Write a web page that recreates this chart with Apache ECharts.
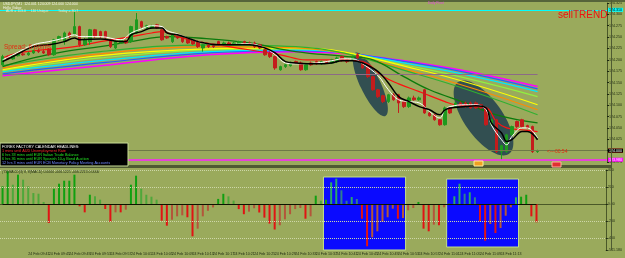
<!DOCTYPE html>
<html>
<head>
<meta charset="utf-8">
<script src="https://cdn.jsdelivr.net/npm/echarts@6/dist/echarts.min.js"></script>
<style>
  html, body { margin: 0; padding: 0; background: #9aaa5c; }
  #main { width: 625px; height: 258px; }
</style>
</head>
<body>
<div id="main"></div>
<script>
// USDJPY M1 candles
const opens = [124.189,124.207,124.202,124.209,124.213,124.211,124.215,124.220,124.218,124.222,
  124.211,124.244,124.240,124.259,124.257,124.273,124.233,124.240,124.266,124.262,
  124.262,124.244,124.226,124.237,124.242,124.240,124.259,124.284,124.270,124.270,
  124.277,124.266,124.251,124.240,124.251,124.248,124.246,124.242,124.240,124.226,
  124.233,124.231,124.240,124.233,124.237,124.235,124.235,124.240,124.237,124.237,
  124.233,124.222,124.215,124.207,124.178,124.185,124.187,124.196,124.193,124.178,
  124.193,124.196,124.191,124.196,124.193,124.196,124.207,124.200,124.200,124.211,
  124.196,124.185,124.163,124.134,124.121,124.108,124.123,124.123,124.108,124.097,
  124.116,124.112,124.134,124.083,124.079,124.068,124.057,124.094,124.097,124.105,
  124.105,124.105,124.105,124.101,124.094,124.057,124.068,123.998,123.998,124.035,
  124.064,124.068,124.055,124.053,123.998]
const closes = [124.207,124.202,124.209,124.213,124.211,124.215,124.220,124.218,124.215,124.211,
  124.244,124.251,124.259,124.251,124.273,124.233,124.244,124.266,124.251,124.251,
  124.248,124.229,124.240,124.242,124.237,124.273,124.288,124.273,124.275,124.275,
  124.270,124.244,124.248,124.255,124.248,124.240,124.237,124.235,124.229,124.233,
  124.229,124.229,124.233,124.237,124.235,124.237,124.240,124.237,124.235,124.229,
  124.226,124.211,124.207,124.182,124.185,124.189,124.193,124.193,124.178,124.189,
  124.189,124.191,124.196,124.193,124.200,124.204,124.198,124.196,124.207,124.204,
  124.182,124.163,124.134,124.119,124.108,124.123,124.112,124.105,124.097,124.116,
  124.112,124.116,124.083,124.077,124.068,124.057,124.094,124.083,124.105,124.097,
  124.097,124.094,124.094,124.094,124.057,124.068,123.998,124.011,124.035,124.053,
  124.053,124.053,124.050,123.998,124.000]
const lows = [124.187,124.200,124.200,124.207,124.209,124.209,124.213,124.215,124.213,124.209,
  124.209,124.242,124.233,124.248,124.255,124.229,124.231,124.233,124.248,124.248,
  124.244,124.226,124.224,124.235,124.235,124.237,124.257,124.270,124.268,124.268,
  124.268,124.242,124.246,124.237,124.246,124.237,124.235,124.233,124.226,124.218,
  124.226,124.226,124.231,124.231,124.233,124.233,124.233,124.235,124.233,124.226,
  124.224,124.209,124.204,124.178,124.176,124.182,124.185,124.191,124.176,124.176,
  124.187,124.189,124.189,124.191,124.191,124.193,124.196,124.193,124.198,124.202,
  124.180,124.160,124.132,124.116,124.105,124.105,124.110,124.083,124.094,124.094,
  124.110,124.110,124.081,124.075,124.066,124.055,124.055,124.081,124.094,124.094,
  124.094,124.092,124.092,124.092,124.055,124.055,123.995,123.980,123.995,124.033,
  124.050,124.050,124.048,123.995,123.995]
const highs = [124.211,124.209,124.211,124.215,124.218,124.218,124.222,124.224,124.222,124.226,
  124.246,124.253,124.262,124.262,124.306,124.275,124.248,124.268,124.268,124.264,
  124.264,124.246,124.242,124.244,124.244,124.275,124.303,124.286,124.277,124.277,
  124.279,124.268,124.253,124.257,124.253,124.251,124.248,124.244,124.242,124.235,
  124.235,124.233,124.242,124.240,124.240,124.240,124.242,124.242,124.240,124.240,
  124.235,124.224,124.218,124.209,124.187,124.191,124.196,124.198,124.196,124.191,
  124.196,124.198,124.198,124.198,124.202,124.207,124.209,124.202,124.209,124.215,
  124.198,124.187,124.165,124.136,124.123,124.125,124.127,124.125,124.110,124.119,
  124.121,124.119,124.136,124.086,124.081,124.070,124.097,124.097,124.108,124.108,
  124.108,124.108,124.108,124.103,124.097,124.070,124.070,124.013,124.037,124.055,
  124.066,124.070,124.057,124.055,124.002]

// indicator lines, read at a few bars each: [bar, price]
const maBlack = [[0,124.196],[2,124.207],[6,124.229],[9,124.233],[12,124.240],[14,124.248],[15,124.244],
  [19,124.246],[23,124.240],[24,124.240],[25,124.255],[27,124.262],[29,124.270],[31,124.270],[32,124.259],
  [34,124.255],[36,124.248],[38,124.240],[42,124.233],[48,124.233],[51,124.226],[53,124.215],[55,124.196],
  [57,124.193],[61,124.191],[64,124.193],[66,124.198],[68,124.198],[70,124.193],[73,124.174],[75,124.149],
  [77,124.119],[79,124.108],[81,124.097],[83,124.090],[85,124.079],[86,124.090],[87,124.094],[90,124.097],
  [92,124.099],[94,124.094],[95,124.061],[97,124.039],[98,124.020],[99,124.024],[101,124.042],[102,124.042],[104,124.024]]
const maWhite = [[0,124.200],[2,124.211],[6,124.233],[9,124.240],[12,124.248],[14,124.255],[15,124.251],
  [19,124.251],[23,124.244],[25,124.259],[27,124.268],[29,124.275],[31,124.273],[32,124.264],[34,124.257],
  [36,124.248],[38,124.240],[42,124.233],[48,124.235],[51,124.226],[53,124.211],[55,124.193],[57,124.191],
  [61,124.193],[64,124.198],[66,124.202],[68,124.202],[70,124.191],[73,124.165],[75,124.134],[77,124.112],
  [79,124.108],[81,124.105],[83,124.086],[85,124.072],[86,124.090],[87,124.097],[90,124.101],[92,124.101],
  [94,124.090],[95,124.057],[97,124.024],[98,124.013],[99,124.031],[101,124.050],[102,124.050],[104,124.028]]
const maRed = [[0,124.204],[3,124.215],[14,124.229],[19,124.240],[25,124.251],[29,124.259],[31,124.262],
  [34,124.251],[38,124.240],[44,124.229],[54,124.211],[59,124.200],[66,124.200],[70,124.196],[74,124.163],
  [77,124.147],[81,124.130],[86,124.108],[88,124.101],[94,124.094],[96,124.064],[98,124.050],[101,124.046],[104,124.042]]
const maDarkGreen = [[0,124.185],[6,124.204],[12,124.218],[19,124.229],[25,124.240],[32,124.251],[38,124.248],
  [48,124.237],[57,124.218],[67,124.207],[72,124.200],[78,124.163],[83,124.134],[90,124.105],[96,124.079],[104,124.061]]

// slow ribbon, read at the same bars for every line
const ribbonAt = [0, 19, 40, 57, 81, 104]
const ribbonMagenta = [124.165, 124.187, 124.211, 124.218, 124.193, 124.141]
const ribbonBlue = [124.169, 124.193, 124.215, 124.220, 124.191, 124.136]
const ribbonCyan = [124.174, 124.198, 124.218, 124.222, 124.187, 124.130]
const ribbonLime = [124.176, 124.204, 124.222, 124.224, 124.182, 124.119]
const ribbonYellow = [124.178, 124.209, 124.224, 124.226, 124.178, 124.101]
const ribbonOrange = [124.182, 124.213, 124.229, 124.226, 124.171, 124.090]
const ribbonGreen = [124.187, 124.218, 124.233, 124.229, 124.167, 124.079]

// price levels
const cyanLevel = 124.312
const pivotLevel = 124.169
const askLevel = 124.004
const bidLevel = 123.998
const lowLevel = 123.980

// lower pane histogram
const histValues = [208,385,227,345,286,208,129,121,24,-223,
  180,239,274,274,345,-27,-98,109,91,51,
  -59,-212,-98,-98,-67,227,333,180,109,86,
  51,-196,-255,-185,-145,-133,-156,-380,-290,-145,
  -80,-40,60,120,90,40,-60,-120,-90,-50,
  -100,-160,-230,-300,-250,-180,-120,-60,-47,-173,
  -145,98,39,51,255,298,161,39,82,59,
  -173,-497,-392,-321,-212,-156,-55,-173,-165,-74,
  -47,24,-290,-321,-243,-250,-39,5,91,239,
  121,138,79,-203,-432,-235,-341,-282,-138,-39,
  79,86,109,-145,-215]
const histTicks = [400, 200, 0, -200, -400, -541]
const boxes = [[64, 77, 318, -541], [88, 100, 294, -506]]

// time axis labels, one every 4 bars starting at bar 1
const timeLabels = ['24 Feb 09:37','24 Feb 09:41','24 Feb 09:45','24 Feb 09:49','24 Feb 09:53','24 Feb 09:57',
  '24 Feb 10:01','24 Feb 10:05','24 Feb 10:09','24 Feb 10:13','24 Feb 10:17','24 Feb 10:21','24 Feb 10:25',
  '24 Feb 10:29','24 Feb 10:33','24 Feb 10:37','24 Feb 10:41','24 Feb 10:45','24 Feb 10:49','24 Feb 10:53',
  '24 Feb 10:57','24 Feb 11:01','24 Feb 11:05','24 Feb 11:09','24 Feb 11:13','24 Feb 11:17']

const barCount = 118
const lastBar = opens.length - 1
const bars = []
for (let i = 0; i < barCount; i++) bars.push(String(i))

const chart = echarts.init(document.getElementById('main'))
const font = 'Liberation Sans, Arial, sans-serif'
const axisInk = '#1c2810'

const candles = opens.map((o, i) => [o, closes[i], lows[i], highs[i]])
const ribbon = (vals) => vals.map((v, k) => [ribbonAt[k], v])

function ma(name, data, color, width, z) {
  return {
    name, type: 'line', data, xAxisIndex: 0, yAxisIndex: 0,
    smooth: 0.4, symbol: 'none', silent: true, z: z || 2,
    lineStyle: { color, width }
  }
}

const inBox = (i) => boxes.some(b => i >= b[0] && i <= b[1])
const histData = histValues.map((v, i) => {
  const prev = i > 0 ? histValues[i - 1] : 0
  let color
  if (v >= 0) color = inBox(i) ? (v >= prev ? '#2aa86a' : '#2f7f8f') : (v >= prev ? '#10a010' : '#4ea83a')
  else color = v <= prev ? '#e01414' : '#b4563a'
  return { value: v, itemStyle: { color } }
})

function levelLabel(bg, fg) {
  return { show: true, position: 'end', distance: 1, formatter: (p) => p.value.toFixed(3),
    backgroundColor: bg, color: fg, fontSize: 3.6, fontFamily: font, padding: [0, 1] }
}

const dotted = (v) => ({ yAxis: v, lineStyle: { color: '#cdd6a8', type: 'dotted', width: 1 } })

const option = {
  backgroundColor: '#9aaa5c',
  animation: false,
  grid: [
    { left: 0, right: 14, top: 3, height: 159 },
    { left: 0, right: 14, top: 170, height: 80 }
  ],
  xAxis: [
    { type: 'category', data: bars, gridIndex: 0, boundaryGap: true, show: false },
    { type: 'category', data: bars, gridIndex: 1, boundaryGap: true,
      axisLine: { lineStyle: { color: '#4a5828' } },
      axisTick: { length: 2, interval: (i) => (i - 1) % 4 === 0 && i <= 101, lineStyle: { color: axisInk } },
      axisLabel: { interval: (i) => (i - 1) % 4 === 0 && i <= 101, align: 'left', margin: 2,
        fontSize: 3.6, color: axisInk, fontFamily: font, hideOverlap: false,
        formatter: (v, i) => timeLabels[(i - 1) / 4] || '' } }
  ],
  yAxis: [
    { type: 'value', gridIndex: 0, position: 'right', min: 123.975, max: 124.325, interval: 0.025,
      axisLine: { show: true, lineStyle: { color: '#4a5828' } },
      axisTick: { show: true, length: 2, lineStyle: { color: axisInk } },
      splitLine: { show: false },
      axisLabel: { fontSize: 3.6, color: axisInk, margin: 2, fontFamily: font, formatter: (v) => v.toFixed(3) } },
    { type: 'value', gridIndex: 1, position: 'right', min: -541, max: 400,
      axisLine: { show: true, lineStyle: { color: '#4a5828' } },
      axisTick: { show: true, length: 2, customValues: histTicks, lineStyle: { color: axisInk } },
      splitLine: { show: false },
      axisLabel: { fontSize: 3.6, color: axisInk, margin: 2, fontFamily: font, customValues: histTicks,
        formatter: (v) => v === 0 ? '0.00' : (v === -541 ? '-541.180' : String(v)) } }
  ],
  series: [
    ma('magenta', ribbon(ribbonMagenta), '#ff00ff', 1.6),
    ma('blue', ribbon(ribbonBlue), '#2060ff', 1.2),
    ma('cyan', ribbon(ribbonCyan), '#00e8ff', 1.2),
    ma('lime', ribbon(ribbonLime), '#90f040', 1.2),
    ma('yellow', ribbon(ribbonYellow), '#ffff00', 1.2),
    ma('orange', ribbon(ribbonOrange), '#ff8a00', 1.2),
    ma('green', ribbon(ribbonGreen), '#30b030', 1.2),
    ma('darkgreen', maDarkGreen, '#0c7a0c', 1.3),
    ma('red', maRed, '#ff1010', 1.2),
    {
      name: 'USDJPY', type: 'candlestick', data: candles, xAxisIndex: 0, yAxisIndex: 0, barWidth: 3, z: 3,
      itemStyle: { color: '#1e9a1e', color0: '#c41c1c', borderColor: '#1e9a1e', borderColor0: '#c41c1c', borderWidth: 1 },
      markLine: {
        silent: true, symbol: 'none', animation: false,
        data: [
          { yAxis: cyanLevel, lineStyle: { color: '#00ffff', width: 1, type: 'solid' }, label: levelLabel('#00ffff', '#000') },
          { yAxis: askLevel, lineStyle: { color: '#ff3a1a', width: 1, type: 'solid' }, label: levelLabel('#ff0000', '#fff') },
          { yAxis: bidLevel, lineStyle: { color: '#6e7a48', width: 1, type: 'solid' }, label: levelLabel('#000', '#fff') },
          { yAxis: lowLevel, lineStyle: { color: '#ff20ff', width: 1.5, type: 'solid' }, label: levelLabel('#ff00ff', '#fff') },
          [{ coord: [0, pivotLevel], lineStyle: { color: '#8c6a86', width: 1, type: 'solid' }, label: { show: false } },
           { coord: [lastBar, pivotLevel] }]
        ]
      }
    },
    ma('white', maWhite, '#ffffff', 1, 4),
    ma('black', maBlack, '#000000', 1.5, 5),
    {
      name: 'hist', type: 'bar', data: histData, xAxisIndex: 1, yAxisIndex: 1, barWidth: 2, z: 3,
      markArea: {
        silent: true,
        itemStyle: { color: '#0a0aff', borderColor: '#c4e088', borderWidth: 1 },
        data: boxes.map(b => [{ xAxis: b[0], yAxis: b[2] }, { xAxis: b[1], yAxis: b[3] }])
      },
      markLine: {
        silent: true, symbol: 'none', animation: false, label: { show: false },
        data: [
          dotted(400), dotted(200), dotted(-200), dotted(-400),
          [{ coord: [0, 0], lineStyle: { color: '#0c1400', type: 'solid', width: 1 } }, { coord: [lastBar, 0] }]
        ]
      }
    }
  ]
}

chart.setOption(option)

// hand-drawn ovals on the chart, anchored to bar/price
const ovals = [
  { bar: 71, price: 124.146, rx: 10, ry: 35, rot: 0.445 },
  { bar: 93, price: 124.072, rx: 19, ry: 44, rot: 0.62 }
]
const ovalEls = ovals.map(o => {
  const a = chart.convertToPixel({ gridIndex: 0 }, [o.bar, o.price])
  const b = chart.convertToPixel({ gridIndex: 0 }, [o.bar + 1, o.price])
  return { type: 'ellipse', x: (a[0] + b[0]) / 2, y: a[1], rotation: o.rot, z: 0,
    shape: { cx: 0, cy: 0, rx: o.rx, ry: o.ry }, style: { fill: '#2c4a50', opacity: 0.95 } }
})

const txt = (text, x, y, fill, size) => ({ type: 'text', x, y, z: 10,
  style: { text, fill, font: size + 'px ' + font } })

chart.setOption({
  graphic: [
    ...ovalEls,
    { type: 'rect', z: 9, shape: { x: 0, y: 0, width: 625, height: 2 }, style: { fill: '#56643a' } },
    { type: 'rect', z: 9, shape: { x: 0, y: 165, width: 611, height: 3 }, style: { fill: '#4e5a32' } },
    { type: 'rect', z: 9, shape: { x: 611, y: 0, width: 1, height: 250 }, style: { fill: '#4e5a32' } },
    txt('USDJPY,M1  124.001 124.009 124.000 124.004', 3, 2.5, '#f4f4e8', 3.5),
    txt('Hello Gabor', 3, 6, '#f4f4e8', 3.5),
    txt('ADR = 113.0     110 Unique          Today = 30.7', 6, 9.5, '#e4ecc4', 3.5),
    txt('Daily Pivot', 428, 1.5, '#e83ce8', 3.3),
    txt('sellTREND', 558, 10, '#ee1111', 10),
    txt('Spread: 6 points', 4, 44, '#e22a10', 6.5),
    { type: 'rect', z: 9, shape: { x: 0, y: 143, width: 128, height: 23 }, style: { fill: '#000', stroke: '#c8dc96', lineWidth: 1 } },
    txt('FOREX FACTORY CALENDAR HEADLINES:', 2, 144.5, '#ffffff', 3.8),
    txt('1 mins until AUD Unemployment Rate', 2, 149, '#ff2a2a', 3.8),
    txt('6 hrs 33 mins until EUR Italian Trade Balance', 2, 153, '#22e022', 3.8),
    txt('6 hrs 36 mins until EUR Spanish 10-y Bond Auction', 2, 157, '#22e022', 3.8),
    txt('12 hrs 3 mins until EUR ECB Monetary Policy Meeting Accounts', 2, 161, '#7088ff', 3.8),
    txt('(T3)MACD(3) 8, 8(MACD) 0.0000 -006.1221 -006.2215 0.0000', 2, 170, '#1c2810', 3.5),
    txt('<---00:54', 547, 149, '#e02a10', 5),
    { type: 'rect', z: 9, shape: { x: 474, y: 161, width: 9, height: 5 }, style: { fill: '#f0a020', stroke: '#fff0a0', lineWidth: 1 } },
    { type: 'rect', z: 9, shape: { x: 552, y: 162, width: 9, height: 5 }, style: { fill: '#e03030', stroke: '#ffb0a0', lineWidth: 1 } }
  ]
})

window.addEventListener('resize', () => chart.resize())
</script>
</body>
</html>
